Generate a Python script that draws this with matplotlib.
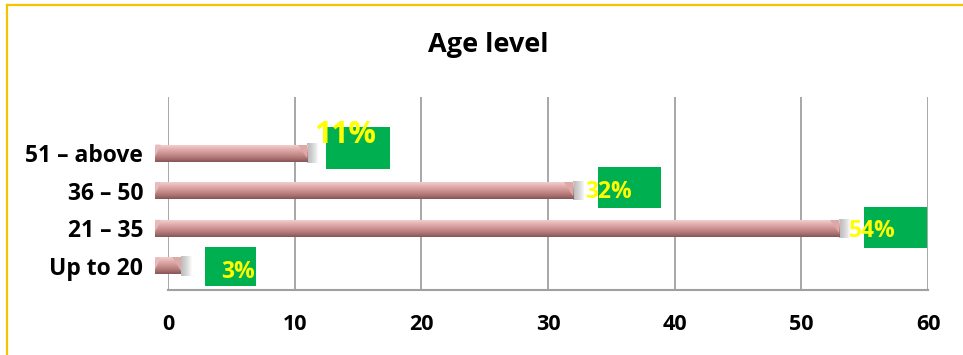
import numpy as np
import matplotlib
matplotlib.use('Agg')
import matplotlib.pyplot as plt
from matplotlib.patches import Rectangle, Polygon
from matplotlib.lines import Line2D
from matplotlib.colors import LinearSegmentedColormap

# data (bottom -> top)
categories = ['Up to 20', '21 \u2013 35', '36 \u2013 50', '51 \u2013 above']
values = [1, 53, 32, 11]
pct_labels = ['3%', '54%', '32%', '11%']
x_ticks = [0, 10, 20, 30, 40, 50, 60]

# label layout, in pixels relative to bar end / bar centre (y down)
box_dx = [24, 25, 25, 19]
box_w = [51, 63, 63, 64]
box_h = [39, 41, 41, 42]
box_dy = [0.5, -1, -3, -5]
txt_dx = [57.5, 32.5, 35.5, 38]
txt_dy = [6, 2.5, 1.5, -18]
txt_size = [16.5, 16.5, 16.5, 22]

plt.rcParams['font.family'] = ['Open Sans', 'DejaVu Sans']

fig = plt.figure(figsize=(9.63, 3.55), dpi=100)
ax = fig.add_axes([168/963, 65/355, 760/963, 193/355])

depth = 1.0  # 3d look: front face sits left of the zero line
bar_h = 0.45
bars = ax.barh(range(len(values)), [v + depth for v in values], left=-depth,
               height=bar_h, color='#C98F8E', edgecolor='none', clip_on=False, zorder=3)

cmap = LinearSegmentedColormap.from_list('rose', ['#F0CFCE', '#E2AEAD', '#CB9291', '#B07776', '#855656'])
grad = np.linspace(0, 1, 64).reshape(-1, 1)

for b in bars:
    x0, y0, w, h = b.get_x(), b.get_y(), b.get_width(), b.get_height()
    # soft grey shadow to the right of the bar end
    for k in range(16):
        ax.add_patch(Rectangle((x0 + w, y0 - 0.03), 0.055 * (k + 1), h + 0.06,
                               color='#707070', alpha=0.035, lw=0, zorder=2, clip_on=False))
    im = ax.imshow(grad, cmap=cmap, aspect='auto', extent=(x0, x0 + w, y0, y0 + h),
                   zorder=4, interpolation='bicubic')
    im.set_clip_path(b)
    # bevelled end caps
    cap = min(0.7, w * 0.4)
    ax.add_patch(Polygon([(x0 + w - cap, y0 + h), (x0 + w, y0 + h), (x0 + w, y0 + h * 0.2)],
                         closed=True, color='#DDA9A8', lw=0, zorder=5, clip_on=False))
    ax.add_patch(Polygon([(x0, y0 + h), (x0 + cap * 0.6, y0 + h), (x0, y0 + h * 0.3)],
                         closed=True, color='#E6BDBC', lw=0, zorder=5, clip_on=False))

ax.set_xlim(0, 60)
ax.set_ylim(-0.64, 4.49)

ax.set_xticks(x_ticks)
ax.set_xticklabels([str(t) for t in x_ticks], fontsize=15.5, fontweight='bold')
ax.set_yticks(range(len(categories)))
ax.set_yticklabels(categories, fontsize=16.5, fontweight='bold')
ax.tick_params(axis='x', length=0, pad=17)
ax.tick_params(axis='y', length=0, pad=18)

ax.grid(axis='x', color='#A0A0A0', lw=1.3, zorder=1)
ax.set_axisbelow(True)
for s in ['top', 'right', 'left']:
    ax.spines[s].set_visible(False)
ax.spines['bottom'].set_color('#A0A0A0')
ax.spines['bottom'].set_linewidth(1.5)

# percentage labels in green boxes
fig.canvas.draw()
inv = ax.transData.inverted()
for i, v in enumerate(values):
    ex, ey = ax.transData.transform((v, i))
    bx0 = ex + box_dx[i]
    by_c = ey - box_dy[i]
    p0 = inv.transform((bx0, by_c - box_h[i] / 2))
    p1 = inv.transform((bx0 + box_w[i], by_c + box_h[i] / 2))
    ax.add_patch(Rectangle((p0[0], p0[1]), p1[0] - p0[0], p1[1] - p0[1],
                           color='#00B050', lw=0, zorder=7, clip_on=False))
    tp = inv.transform((ex + txt_dx[i], ey - txt_dy[i]))
    ax.text(tp[0], tp[1], pct_labels[i], color='#FFFF00', fontsize=txt_size[i],
            fontweight='bold', ha='center', va='center', zorder=8, clip_on=False)

fig.text(488/963, 1 - 45/355, 'Age level', fontsize=19.5, fontweight='bold',
         ha='center', va='center')

# outer chart border (gold)
fig.add_artist(Line2D([6.5/963, 1], [1 - 4.5/355, 1 - 4.5/355], color='#F5C300', lw=1.6))
fig.add_artist(Line2D([6.5/963, 6.5/963], [0, 1 - 4.5/355], color='#F5C300', lw=1.6))

fig.savefig('out.png', dpi=100)
